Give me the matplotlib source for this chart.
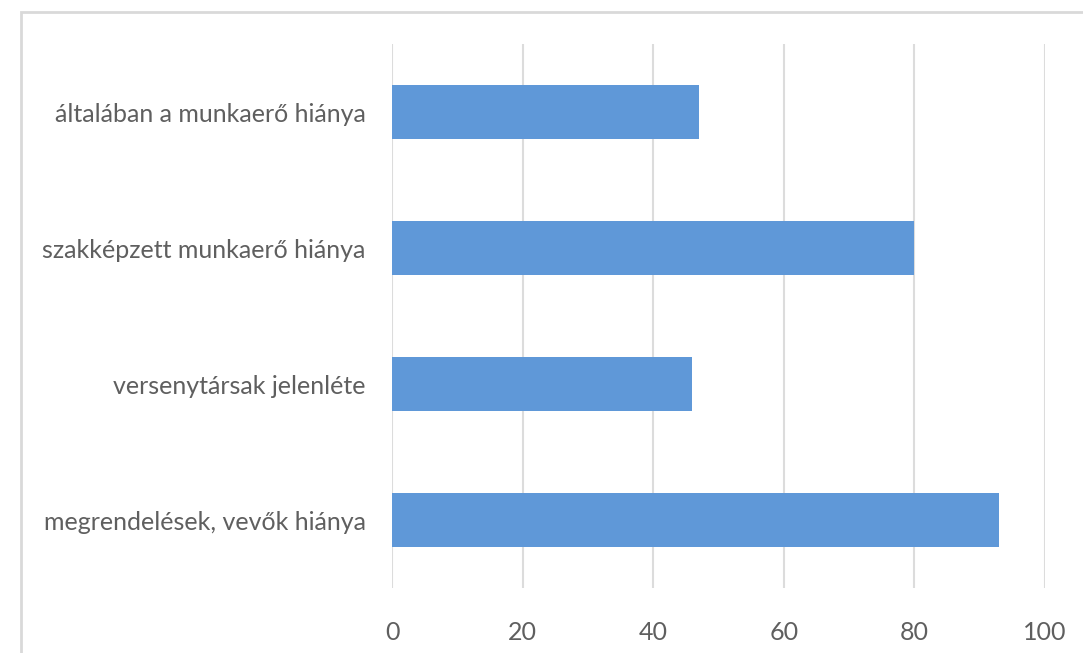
import matplotlib.pyplot as plt
from matplotlib.patches import Rectangle

categories = [
    "megrendelések, vevők hiánya",
    "versenytársak jelenléte",
    "szakképzett munkaerő hiánya",
    "általában a munkaerő hiánya",
]
values = [93, 46, 80, 47]
xticks = [0, 20, 40, 60, 80, 100]

plt.rcParams['font.family'] = ['Lato', 'DejaVu Sans']

fig = plt.figure(figsize=(10.83, 6.53), dpi=100)
ax = fig.add_axes([0.362, 0.0995, 0.603, 0.8331])

ax.barh(range(len(categories)), values, height=0.4, color='#5f98d8', zorder=3)

ax.set_xlim(0, 100)
ax.set_ylim(-0.5, len(categories) - 0.5)
ax.set_xticks(xticks)
ax.set_yticks(range(len(categories)))
ax.set_yticklabels(categories)

ax.grid(axis='x', color='#dcdcdc', linewidth=1.5, zorder=0)
ax.grid(axis='y', visible=False)
for s in ax.spines.values():
    s.set_visible(False)
ax.tick_params(axis='both', length=0, labelsize=18, colors='#5f5f5f')
ax.tick_params(axis='y', pad=19)
ax.tick_params(axis='x', pad=24)

# outer chart frame (cut off at right and bottom)
fig.patches.append(Rectangle((21 / 1083, -0.1), 1.2, 1.1 - 12 / 653,
                             transform=fig.transFigure, fill=False,
                             edgecolor='#d9d9d9', linewidth=2))

fig.savefig('out.png', dpi=100)
